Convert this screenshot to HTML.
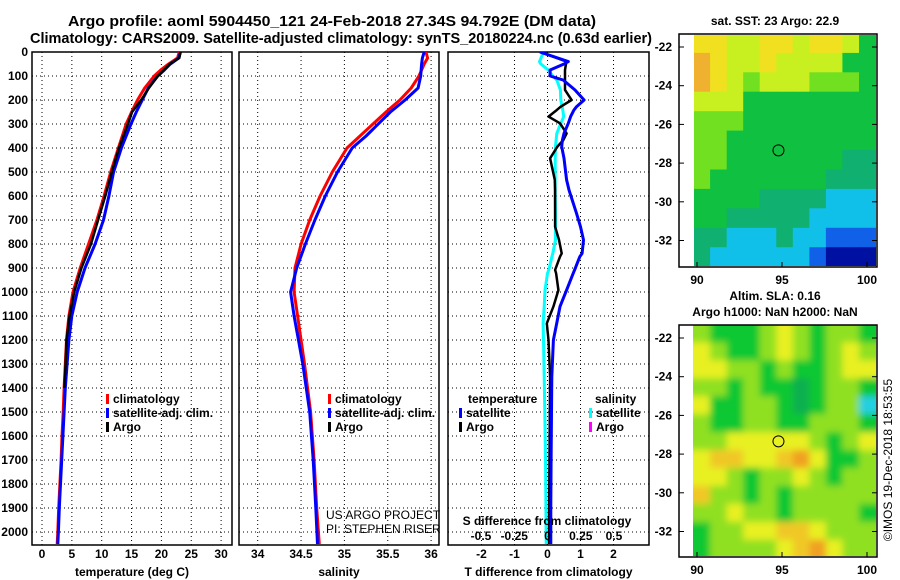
<!DOCTYPE html>
<html><head><meta charset="utf-8">
<style>
html,body{margin:0;padding:0;background:#fff;}
svg{display:block;font-family:"Liberation Sans",Arial,sans-serif;}
.b{font-weight:bold;font-size:12px;}
.t{font-weight:bold;font-size:15px;}
</style></head>
<body>
<svg id="fig" width="900" height="580" viewBox="0 0 900 580" xmlns="http://www.w3.org/2000/svg">
<defs>
<clipPath id="c1"><rect x="32" y="52" width="200" height="493"/></clipPath>
<clipPath id="c2"><rect x="239" y="52" width="200" height="493"/></clipPath>
<clipPath id="c3"><rect x="448" y="52" width="201" height="493"/></clipPath>
<clipPath id="cm1"><rect x="694" y="35" width="182" height="231"/></clipPath>
<clipPath id="cm2"><rect x="693" y="325" width="183" height="231"/></clipPath>
<filter id="blur" x="-10%" y="-10%" width="120%" height="120%"><feGaussianBlur stdDeviation="3.5"/></filter>
</defs>
<text class="t" x="68" y="26" textLength="528" lengthAdjust="spacingAndGlyphs">Argo profile: aoml 5904450_121 24-Feb-2018 27.34S 94.792E (DM data)</text>
<text class="t" x="30" y="43" textLength="622" lengthAdjust="spacingAndGlyphs">Climatology: CARS2009. Satellite-adjusted climatology: synTS_20180224.nc (0.63d earlier)</text>
<g id="layer"></g>
<text x="326" y="519" font-size="12">US ARGO PROJECT</text>
<text x="326" y="533" font-size="12">PI: STEPHEN RISER</text>
<text class="b" x="775" y="25" text-anchor="middle">sat. SST: 23 Argo: 22.9</text>
<text class="b" x="775" y="300" text-anchor="middle">Altim. SLA: 0.16</text>
<text class="b" x="775" y="316" text-anchor="middle">Argo h1000: NaN h2000: NaN</text>
<text x="0" y="0" font-size="12" transform="translate(892,460) rotate(-90)" text-anchor="middle">©IMOS 19-Dec-2018 18:53:55</text>
</svg>
<script>
// ---------- data ----------
const depths = [0,25,50,75,100,150,200,250,300,400,500,600,700,800,900,1000,1100,1200,1300,1400,1500,1600,1700,1800,1900,2000,2050];
const tempClim = [23.0,22.7,21.2,19.9,18.8,17.2,16.0,15.0,14.1,12.8,11.5,10.4,9.2,7.8,6.4,5.2,4.5,4.1,3.9,3.7,3.55,3.35,3.2,3.0,2.8,2.65,2.55];
const tempSat = [23.2,22.9,21.5,20.5,19.4,17.8,16.8,15.8,14.9,13.3,12.0,11.2,10.3,8.9,7.2,5.9,5.0,4.5,4.2,3.9,3.7,3.5,3.3,3.1,2.9,2.75,2.65];
const tempArgo = [23.2,23.0,21.4,20.4,19.4,17.9,16.6,15.1,14.4,12.9,11.7,10.6,9.4,8.2,6.6,5.4,4.6,4.1,3.95,3.75,3.6,3.4,3.25,3.05,2.85,2.7,2.6];
const salDepths = [0,25,50,100,150,200,250,300,350,400,500,600,700,800,900,1000,1100,1300,1500,1700,1900,2050];
const salClim = [35.94,35.96,35.92,35.86,35.77,35.64,35.48,35.33,35.18,35.03,34.86,34.72,34.60,34.50,34.43,34.42,34.46,34.54,34.61,34.65,34.68,34.71];
const salSat = [35.92,35.90,35.89,35.88,35.85,35.70,35.53,35.39,35.25,35.09,34.92,34.78,34.66,34.55,34.45,34.38,34.42,34.52,34.60,34.64,34.67,34.69];
const diffDepths = [0,40,50,75,100,117,158,200,228,242,269,297,339,367,394,443,533,575,672,728,783,839,853,908,922,992,1061,1131,1200,1353,1500,1700,1900,2050];
const tDiffSat = [-0.23,0.63,0.5,0.08,0.08,0.48,0.83,1.11,0.88,0.8,0.7,0.63,0.5,0.45,0.43,0.5,0.58,0.65,0.88,1.0,1.09,1.05,0.98,0.82,0.78,0.58,0.38,0.28,0.18,0.13,0.12,0.11,0.1,0.1];
const tDiffArgo = [-0.23,0.58,0.56,0.53,0.53,0.53,0.53,0.73,0.4,0.28,0.03,0.38,0.58,0.48,0.3,0.08,0.22,0.23,0.23,0.23,0.35,0.43,0.38,0.23,0.26,0.33,0.18,-0.02,0.03,0.08,0.07,0.06,0.05,0.05];
const sDiffSat = [-0.03,-0.06,-0.05,0.006,0.04,0.07,0.097,0.1,0.11,0.115,0.122,0.1,0.07,0.065,0.06,0.058,0.058,0.058,0.06,0.06,0.06,0.04,0.033,0.01,0.0,-0.019,-0.025,-0.033,-0.03,-0.025,-0.02,-0.015,-0.012,-0.01];
const tempTicks = [0,5,10,15,20,25,30];
const salTicks = [34,34.5,35,35.5,36];
const tDiffTicks = [-2,-1,0,1,2];
const sDiffTicks = [-0.5,-0.25,0,0.25,0.5];
const depthTicks = [0,100,200,300,400,500,600,700,800,900,1000,1100,1200,1300,1400,1500,1600,1700,1800,1900,2000];
const sstGrid = [
[6,6,5,5,6,6,5,6,6,5,3],
[7,6,5,5,6,5,5,5,5,3,3],
[7,6,5,4,5,5,5,4,4,4,3],
[5,5,5,3,3,3,3,3,3,3,3],
[4,4,4,3,3,3,3,3,3,3,3],
[4,4,3,3,3,3,3,3,3,3,3],
[4,4,3,3,3,3,3,3,3,2,2],
[4,3,3,3,3,3,3,3,2,2,2],
[3,3,3,3,2,2,2,2,1,1,1],
[3,3,2,2,2,2,2,1,1,1,1],
[2,2,1,1,1,2,1,1,0,0,0],
[2,1,1,1,1,1,1,0,-1,-1,-1]];
const slaGrid = [
[3,2,2,2,3,4,3,2,3,3,2],
[4,3,2,2,3,4,3,2,3,4,3],
[4,4,3,3,2,3,2,2,3,4,4],
[3,3,2,3,2,2,1,2,3,3,2],
[4,2,2,3,3,2,1,2,3,3,0],
[3,2,2,3,3,2,2,3,3,3,2],
[3,3,4,4,4,4,4,3,2,3,4],
[4,5,5,4,4,5,6,4,2,2,3],
[4,4,3,2,3,3,4,3,2,3,3],
[5,3,3,2,3,2,3,3,3,3,3],
[3,3,4,3,3,2,3,3,3,3,2],
[2,3,3,4,4,5,5,4,3,3,3],
[2,3,3,3,3,4,5,6,4,3,3]];
const latTicks = [-22,-24,-26,-28,-30,-32];
const lonTicks = [90,95,100];
const argoLon = 94.792, argoLat = -27.34;

// ---------- helpers ----------
const NS="http://www.w3.org/2000/svg";
const layer=document.getElementById('layer');
function mk(tag,attrs,parent){const e=document.createElementNS(NS,tag);for(const k in attrs)e.setAttribute(k,attrs[k]);(parent||layer).appendChild(e);return e;}
const Y=d=>52+0.24*d;
const xT=v=>42+5.97*v;
const xS=v=>257.7+86.7*(v-34);
const xTd=v=>547.5+33*v;
const xSd=v=>547.5+133*v;

function frame(x0,x1,name,clipId,xticks,xf,xlabels,xtitle){
  const g=mk('g',{});
  
  
  const grid=mk('g',{stroke:'#000','stroke-width':1,'stroke-dasharray':'1,3'},g);
  
  
  depthTicks.forEach(d=>{ if(d>0) mk('line',{x1:x0,x2:x1,y1:Y(d),y2:Y(d)},grid); });
  xticks.forEach(v=>{ mk('line',{x1:xf(v),x2:xf(v),y1:52,y2:545},grid); });
  const r=mk('rect',{x:x0,y:52,width:x1-x0,height:493,fill:'none',stroke:'#000','stroke-width':1.5},g);
  
  
  if(xlabels){
    xticks.forEach(v=>{const t=mk('text',{x:xf(v),y:558,'text-anchor':'middle',class:'b'},g);t.textContent=String(v);
      
      });
  }
  const tt=mk('text',{x:(x0+x1)/2,y:576,'text-anchor':'middle',class:'b'},g);tt.textContent=xtitle;
  
  
  const series=mk('g',{'clip-path':'url(#'+clipId+')'},g);
  return series;
}
function line(parent,xs,ds,xf,color,w,name){
  const pts=xs.map((v,i)=>xf(v).toFixed(1)+','+Y(ds[i]).toFixed(1)).join(' ');
  const p=mk('polyline',{points:pts,fill:'none',stroke:color,'stroke-width':w,'stroke-linejoin':'round'},parent);
  
  
}
function legend(x,y,color,label){
  const r=mk('rect',{x:x,y:y-9,width:3,height:10,fill:color});
  
  
  const t=mk('text',{x:x+7,y:y,class:'b'});t.textContent=label;
  
  
}

depthTicks.forEach(d=>{const t=mk('text',{x:28,y:Y(d)+4,'text-anchor':'end',class:'b'});t.textContent=String(d);
  
  });

const s1=frame(32,232,'temperature-panel','c1',tempTicks,xT,true,'temperature (deg C)');
line(s1,tempClim,depths,xT,'#f00',3,'temperature-climatology-line');
line(s1,tempSat,depths,xT,'#00f',3,'temperature-satellite-line');
line(s1,tempArgo.slice(0,20),depths.slice(0,20),xT,'#000',2.5,'temperature-argo-line');
legend(106,403,'#f00','climatology');
legend(106,417,'#00f','satellite-adj. clim.');
legend(106,431,'#000','Argo');

const s2=frame(239,439,'salinity-panel','c2',salTicks,xS,true,'salinity');
line(s2,salClim,salDepths,xS,'#f00',3,'salinity-climatology-line');
line(s2,salSat,salDepths,xS,'#00f',3,'salinity-satellite-line');
legend(328,403,'#f00','climatology');
legend(328,417,'#00f','satellite-adj. clim.');
legend(328,431,'#000','Argo');

const s3=frame(448,649,'difference-panel','c3',tDiffTicks,xTd,true,'T difference from climatology');
line(s3,sDiffSat,diffDepths,xSd,'#0ff',3,'salinity-diff-satellite-line');
line(s3,tDiffArgo,diffDepths,xTd,'#000',2.5,'temperature-diff-argo-line');
line(s3,tDiffSat,diffDepths,xTd,'#00f',3,'temperature-diff-satellite-line');
{const t=mk('text',{x:547,y:525,'text-anchor':'middle',class:'b'});t.textContent='S difference from climatology';
 
 }
sDiffTicks.forEach(v=>{const t=mk('text',{x:xSd(v),y:540,'text-anchor':'middle',class:'b'});t.textContent=String(v);
  
  });
{const t=mk('text',{x:468,y:403,class:'b'});t.textContent='temperature';
 
 }
legend(459,417,'#00f','satellite');
legend(459,431,'#000','Argo');
{const t=mk('text',{x:595,y:403,class:'b'});t.textContent='salinity';
 
 }
legend(589,417,'#0ff','satellite');
legend(589,431,'#f0f','Argo');

const sstColors={'-1':'#0010a0','0':'#1060e8','1':'#10c0e8','2':'#10b070','3':'#10c040','4':'#70e020','5':'#c8f020','6':'#f0e020','7':'#f0b030'};
const slaColors=['#20d0e0','#10b050','#10c830','#90e020','#e8f020','#f0c828','#f0a020'];
function map(top,bottom,grid,colors,blur,clipId,name){
  const latA=-22, yA=top+13, pxLat=19.35;
  const LY=lat=>yA+(latA-lat)*pxLat;
  const LX=lon=>697+17*(lon-90);
  const g=mk('g',{});
  
  
  const cg=mk('g',{'clip-path':'url(#'+clipId+')'},g);
  const cells=mk('g',blur?{filter:'url(#blur)'}:{},cg);
  const nr=grid.length, nc=grid[0].length;
  const lat0=-21.3, lat1=-33.35, lon0=89.8, lon1=100.5;
  const dLat=(lat0-lat1)/nr, dLon=(lon1-lon0)/nc;
  grid.forEach((row,i)=>row.forEach((v,j)=>{
    let x=LX(lon0+j*dLon), y=LY(lat0-i*dLat), w=17*dLon, h=pxLat*dLat;
    if(blur){ if(j==0){x-=15;w+=15;} if(j==nc-1)w+=15; if(i==0){y-=15;h+=15;} if(i==nr-1)h+=15; }
    const r=mk('rect',{x:x.toFixed(1),y:y.toFixed(1),width:(w+0.6).toFixed(1),height:(h+0.6).toFixed(1),fill:colors[v]},cells);
    
    
  }));
  const fr=mk('rect',{x:679,y:top,width:198,height:bottom-top,fill:'none',stroke:'#000','stroke-width':1.5},g);
  
  
  latTicks.forEach(l=>{
    mk('line',{x1:679,x2:684,y1:LY(l),y2:LY(l),stroke:'#000'},g);
    mk('line',{x1:872,x2:877,y1:LY(l),y2:LY(l),stroke:'#000'},g);
    const t=mk('text',{x:672,y:LY(l)+4,'text-anchor':'end',class:'b'},g);t.textContent=String(l);
    
    
  });
  lonTicks.forEach(l=>{
    mk('line',{x1:LX(l),x2:LX(l),y1:bottom-5,y2:bottom,stroke:'#000'},g);
    const t=mk('text',{x:LX(l),y:bottom+17,'text-anchor':'middle',class:'b'},g);t.textContent=String(l);
    
    
  });
  const c=mk('circle',{cx:LX(argoLon),cy:LY(argoLat),r:5.5,fill:'none',stroke:'#000','stroke-width':1},g);
  
  
}
map(34,267,sstGrid,sstColors,false,'cm1','sst-map');
map(325,557,slaGrid,slaColors,true,'cm2','sla-map');
</script>
</body></html>
